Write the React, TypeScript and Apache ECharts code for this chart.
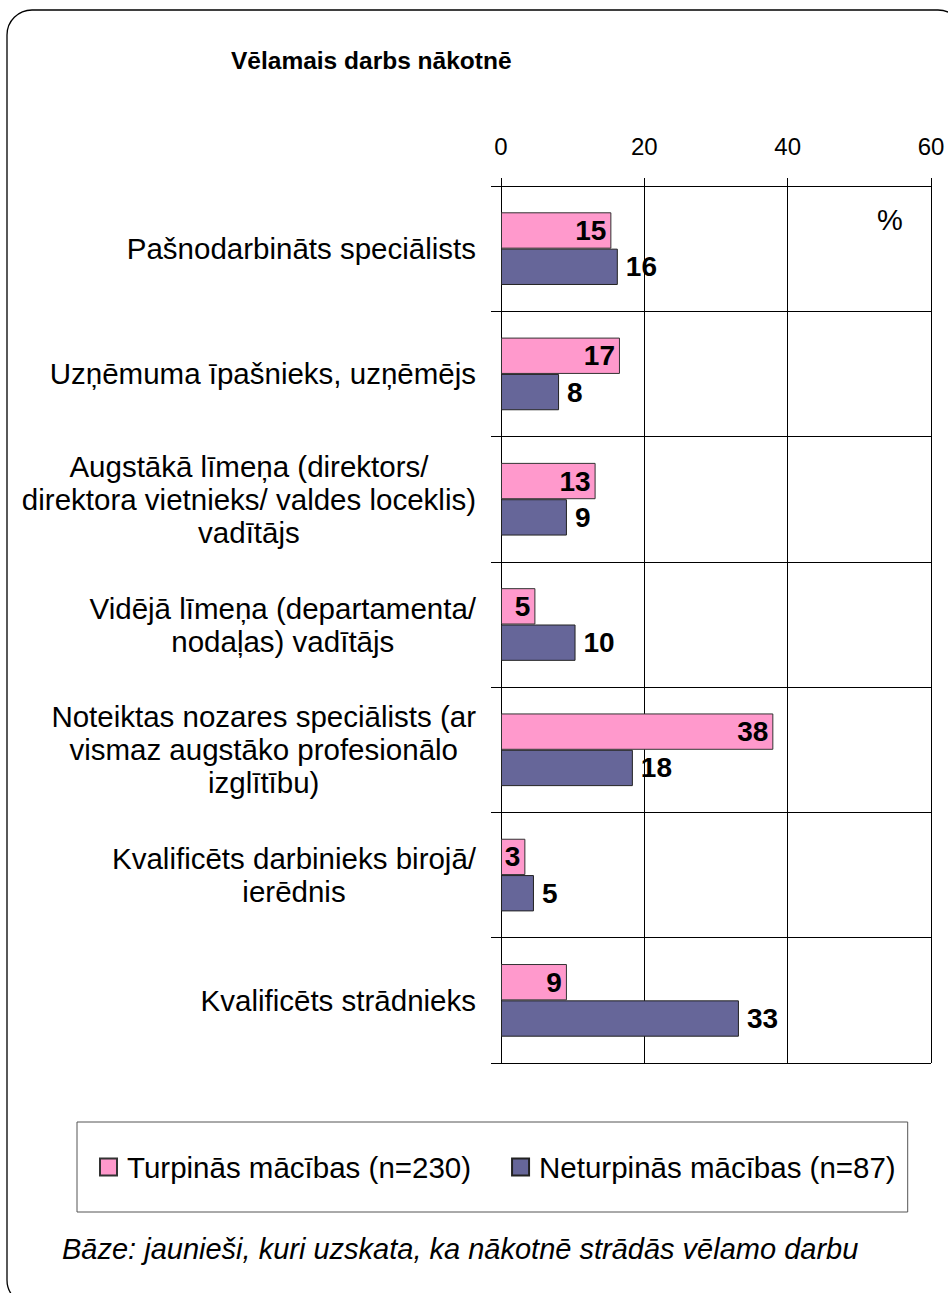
import React, { useEffect, useRef } from "react";
import * as echarts from "echarts";

const TITLE = "Vēlamais darbs nākotnē";
const FOOTNOTE = "Bāze: jaunieši, kuri uzskata, ka nākotnē strādās vēlamo darbu";
const UNIT = "%";

const categories = [
  "Pašnodarbināts speciālists",
  "Uzņēmuma īpašnieks, uzņēmējs",
  "Augstākā līmeņa (direktors/\ndirektora vietnieks/ valdes loceklis)\nvadītājs",
  "Vidējā līmeņa (departamenta/\nnodaļas) vadītājs",
  "Noteiktas nozares speciālists (ar\nvismaz augstāko profesionālo\nizglītību)",
  "Kvalificēts darbinieks birojā/\nierēdnis",
  "Kvalificēts strādnieks",
];

const seriesNames = ["Turpinās mācības (n=230)", "Neturpinās mācības (n=87)"];

// values; labels show them rounded
const turpinas = [15.4, 16.6, 13.2, 4.8, 38.0, 3.4, 9.2];
const neturpinas = [16.3, 8.1, 9.2, 10.4, 18.4, 4.6, 33.2];

const xMin = 0;
const xMax = 60;
const xInterval = 20;

const FONT = '"Liberation Sans", Arial, Helvetica, sans-serif';

export default function App() {
  const ref = useRef<HTMLDivElement>(null);

  useEffect(() => {
    if (!ref.current) return;
    const chart = echarts.init(ref.current, null, { renderer: "svg" });
    const valueLabel = (p: any) => String(Math.round(p.value));
    chart.setOption({
      animation: false,
      backgroundColor: "#ffffff",
      textStyle: { fontFamily: FONT },
      title: [
        {
          text: TITLE,
          left: 231,
          top: 48,
          padding: 0,
          textStyle: { fontSize: 24.5, fontWeight: "bold", color: "#000", fontFamily: FONT },
        },
        {
          text: UNIT,
          left: 877,
          top: 205,
          padding: 0,
          textStyle: { fontSize: 29, fontWeight: "normal", color: "#000", fontFamily: FONT },
        },
        {
          text: FOOTNOTE,
          left: 62,
          top: 1234,
          padding: 0,
          textStyle: {
            fontSize: 29,
            fontStyle: "italic",
            fontWeight: "normal",
            color: "#000",
            fontFamily: FONT,
          },
        },
      ],
      legend: {
        left: 77,
        top: 1122,
        orient: "horizontal",
        padding: [30, 12, 30, 22],
        borderColor: "#555",
        borderWidth: 1,
        itemWidth: 17,
        itemHeight: 17,
        itemGap: 40,
        icon: "rect",
        textStyle: { fontSize: 29.5, color: "#000", fontFamily: FONT, padding: [0, 0, 0, 5] },
        data: seriesNames,
      },
      grid: { left: 501, right: 17, top: 186, bottom: 230, containLabel: false },
      xAxis: {
        type: "value",
        position: "top",
        min: xMin,
        max: xMax,
        interval: xInterval,
        axisLine: { show: true, lineStyle: { color: "#000", width: 1 } },
        axisTick: { show: true, length: 8, lineStyle: { color: "#000", width: 1 } },
        axisLabel: { fontSize: 24, color: "#000", margin: 28, fontFamily: FONT },
        splitLine: { show: true, lineStyle: { color: "#000", width: 1 } },
      },
      yAxis: {
        type: "category",
        inverse: true,
        data: categories,
        axisLine: { show: true, lineStyle: { color: "#000", width: 1 } },
        axisTick: { show: true, length: 10, lineStyle: { color: "#000", width: 1 } },
        axisLabel: {
          margin: 25,
          color: "#000",
          fontSize: 29.5,
          lineHeight: 33,
          fontFamily: FONT,
          formatter: (v: string) =>
            v
              .split("\n")
              .map((l) => `{c|${l}}`)
              .join("\n"),
          rich: {
            c: { align: "center", fontSize: 29.5, lineHeight: 33, color: "#000", fontFamily: FONT },
          },
        },
        splitLine: { show: true, lineStyle: { color: "#000", width: 1 } },
      },
      series: [
        {
          name: seriesNames[0],
          type: "bar",
          data: turpinas,
          barGap: "0%",
          barCategoryGap: "42%",
          itemStyle: { color: "#FF99CC", borderColor: "#333", borderWidth: 1 },
          label: {
            show: true,
            position: "insideRight",
            distance: 5,
            formatter: valueLabel,
            fontSize: 28,
            fontWeight: "bold",
            color: "#000",
            fontFamily: FONT,
          },
        },
        {
          name: seriesNames[1],
          type: "bar",
          data: neturpinas,
          barGap: "0%",
          barCategoryGap: "42%",
          itemStyle: { color: "#666699", borderColor: "#222", borderWidth: 1 },
          label: {
            show: true,
            position: "right",
            distance: 8,
            formatter: valueLabel,
            fontSize: 28,
            fontWeight: "bold",
            color: "#000",
            fontFamily: FONT,
          },
        },
      ],
      graphic: [
        {
          type: "rect",
          silent: true,
          shape: { x: 7, y: 10, width: 956, height: 1295, r: 25 },
          style: { fill: "none", stroke: "#000", lineWidth: 1.3 },
        },
      ],
    });
    return () => chart.dispose();
  }, []);

  return (
    <div
      ref={ref}
      style={{ position: "absolute", left: 0, top: 0, width: 948, height: 1293 }}
    />
  );
}
